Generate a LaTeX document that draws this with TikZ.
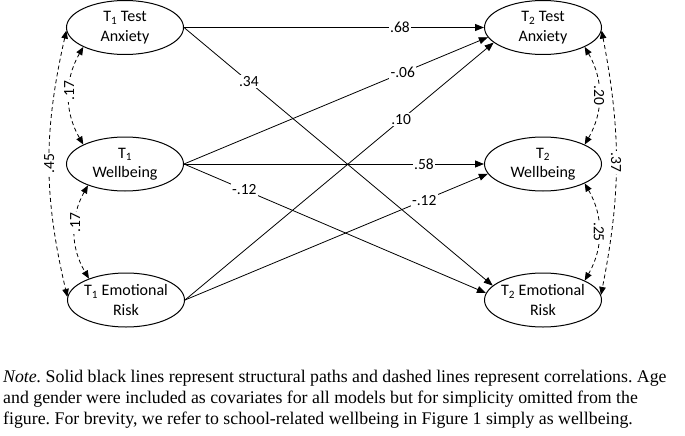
\documentclass[tikz,border=0pt]{standalone}
\usepackage{fontspec}
\setmainfont{Liberation Serif}
\newfontfamily\calibri{Carlito}
\usepackage{tikz}
\usetikzlibrary{shapes.geometric}
\usetikzlibrary{arrows.meta}

\begin{document}
\begin{tikzpicture}[
  x=1pt, y=-1pt,
  font=\calibri\fontsize{16}{19.5}\selectfont,
  latent/.style={draw, ellipse, line width=1pt, align=center, minimum width=117pt, minimum height=54pt, inner xsep=-2pt, inner ysep=0pt},
  arrow/.style={-{Triangle[length=9pt,width=7pt]}, line width=0.8pt},
  corr/.style={{Triangle[length=8pt,width=6.5pt]}-{Triangle[length=8pt,width=6.5pt]}, line width=0.8pt, dash pattern=on 4pt off 3pt},
  coef/.style={fill=white, inner sep=1.5pt, font=\calibri\fontsize{15.5}{18}\selectfont}
]
\useasboundingbox (0,0) rectangle (685,436);

\node[latent] (ta1) at (125,27.5) {T\textsubscript{1} Test\\Anxiety};
\node[latent] (wb1) at (125,164) {T\textsubscript{1}\\Wellbeing};
\node[latent] (er1) at (126,300) {T\textsubscript{1} Emotional\\Risk};

\node[latent] (ta2) at (543,27.5) {T\textsubscript{2} Test\\Anxiety};
\node[latent] (wb2) at (543,164) {T\textsubscript{2}\\Wellbeing};
\node[latent] (er2) at (543,300) {T\textsubscript{2} Emotional\\Risk};

% structural paths
\draw[arrow] (ta1.east) -- node[coef, pos=0.72]{.68} (ta2.west);
\draw[arrow] (ta1.east) -- node[coef, pos=0.21]{.34} (er2.164);
\draw[arrow] (wb1.east) -- node[coef, pos=0.72]{-.06} (ta2.190);
\draw[arrow] (wb1.east) -- node[coef, pos=0.80]{.58} (wb2.west);
\draw[arrow] (wb1.east) -- node[coef, pos=0.20]{-.12} (er2.173);
\draw[arrow] (er1.east) -- node[coef, pos=0.70]{.10} (ta2.197);
\draw[arrow] (er1.east) -- node[coef, pos=0.79]{-.12} (wb2.190);

% correlations
\draw[corr] (ta1.205) to[bend right=30] node[coef, rotate=90, pos=0.45]{.17} (wb1.155);
\draw[corr] (wb1.210) to[bend right=30] node[coef, rotate=90, pos=0.4]{.17} (er1.150);
\draw[corr] (ta1.183) to[bend right=13] node[coef, rotate=90]{.45} (er1.177);
\draw[corr] (ta2.335) to[bend left=30] node[coef, rotate=-90]{.20} (wb2.25);
\draw[corr] (wb2.335) to[bend left=30] node[coef, rotate=-90]{.25} (er2.25);
\draw[corr] (ta2.357) to[bend left=11] node[coef, rotate=-90]{.37} (er2.5);

\node[anchor=north west, align=left, inner sep=0pt, font=\rmfamily\frenchspacing\fontsize{17.8}{21}\selectfont] (note) at (3,370)
{\textit{Note.} Solid black lines represent structural paths and dashed lines represent correlations. Age\\
and gender were included as covariates for all models but for simplicity omitted from the\\
figure. For brevity, we refer to school-related wellbeing in Figure 1 simply as wellbeing.};

\end{tikzpicture}
\end{document}
